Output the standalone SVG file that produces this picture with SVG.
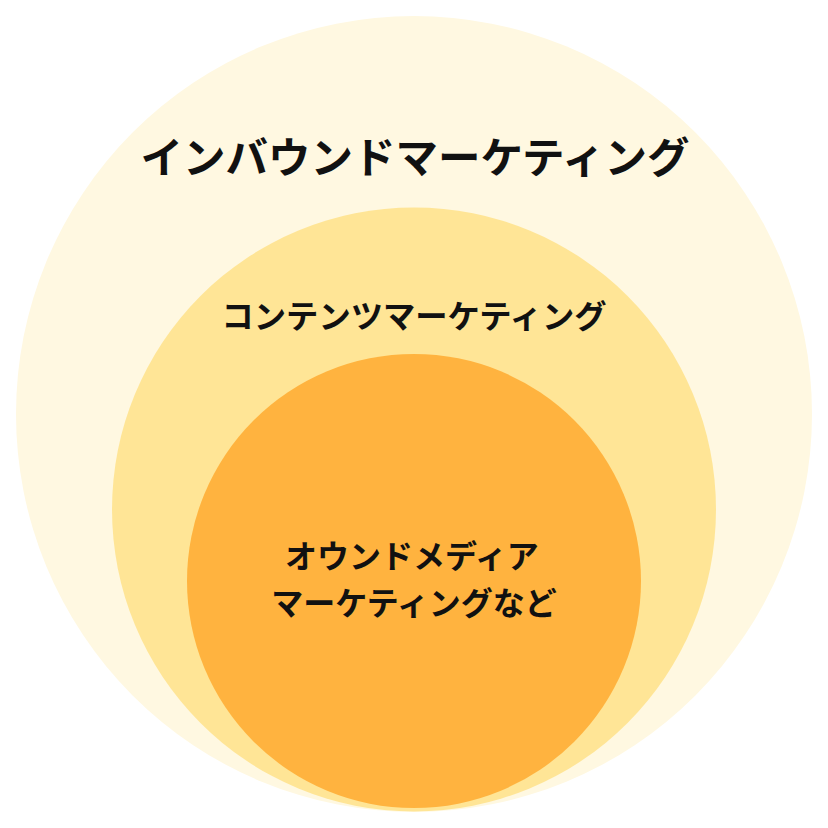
<svg xmlns="http://www.w3.org/2000/svg" width="828" height="828" viewBox="0 0 828 828">
<style>
text{font-family:"Noto Sans CJK JP","Noto Sans",sans-serif;font-weight:bold;fill:#111;text-anchor:middle}
</style>
<rect width="828" height="828" fill="#ffffff"/>
<g id="outer">
<circle cx="414" cy="414" r="398" fill="#FFF8E1"/>
<text x="415" y="173" font-size="42.5">インバウンドマーケティング</text>
</g>
<g id="middle">
<circle cx="414" cy="509.5" r="302" fill="#FFE596"/>
<text x="414" y="328" font-size="32.3">コンテンツマーケティング</text>
</g>
<g id="inner">
<circle cx="414" cy="581" r="227" fill="#FFB33F"/>
<text x="412" y="568" font-size="32">オウンドメディア</text>
<text x="414" y="615" font-size="32">マーケティングなど</text>
</g>
<g id="connectors"/>
</svg>
